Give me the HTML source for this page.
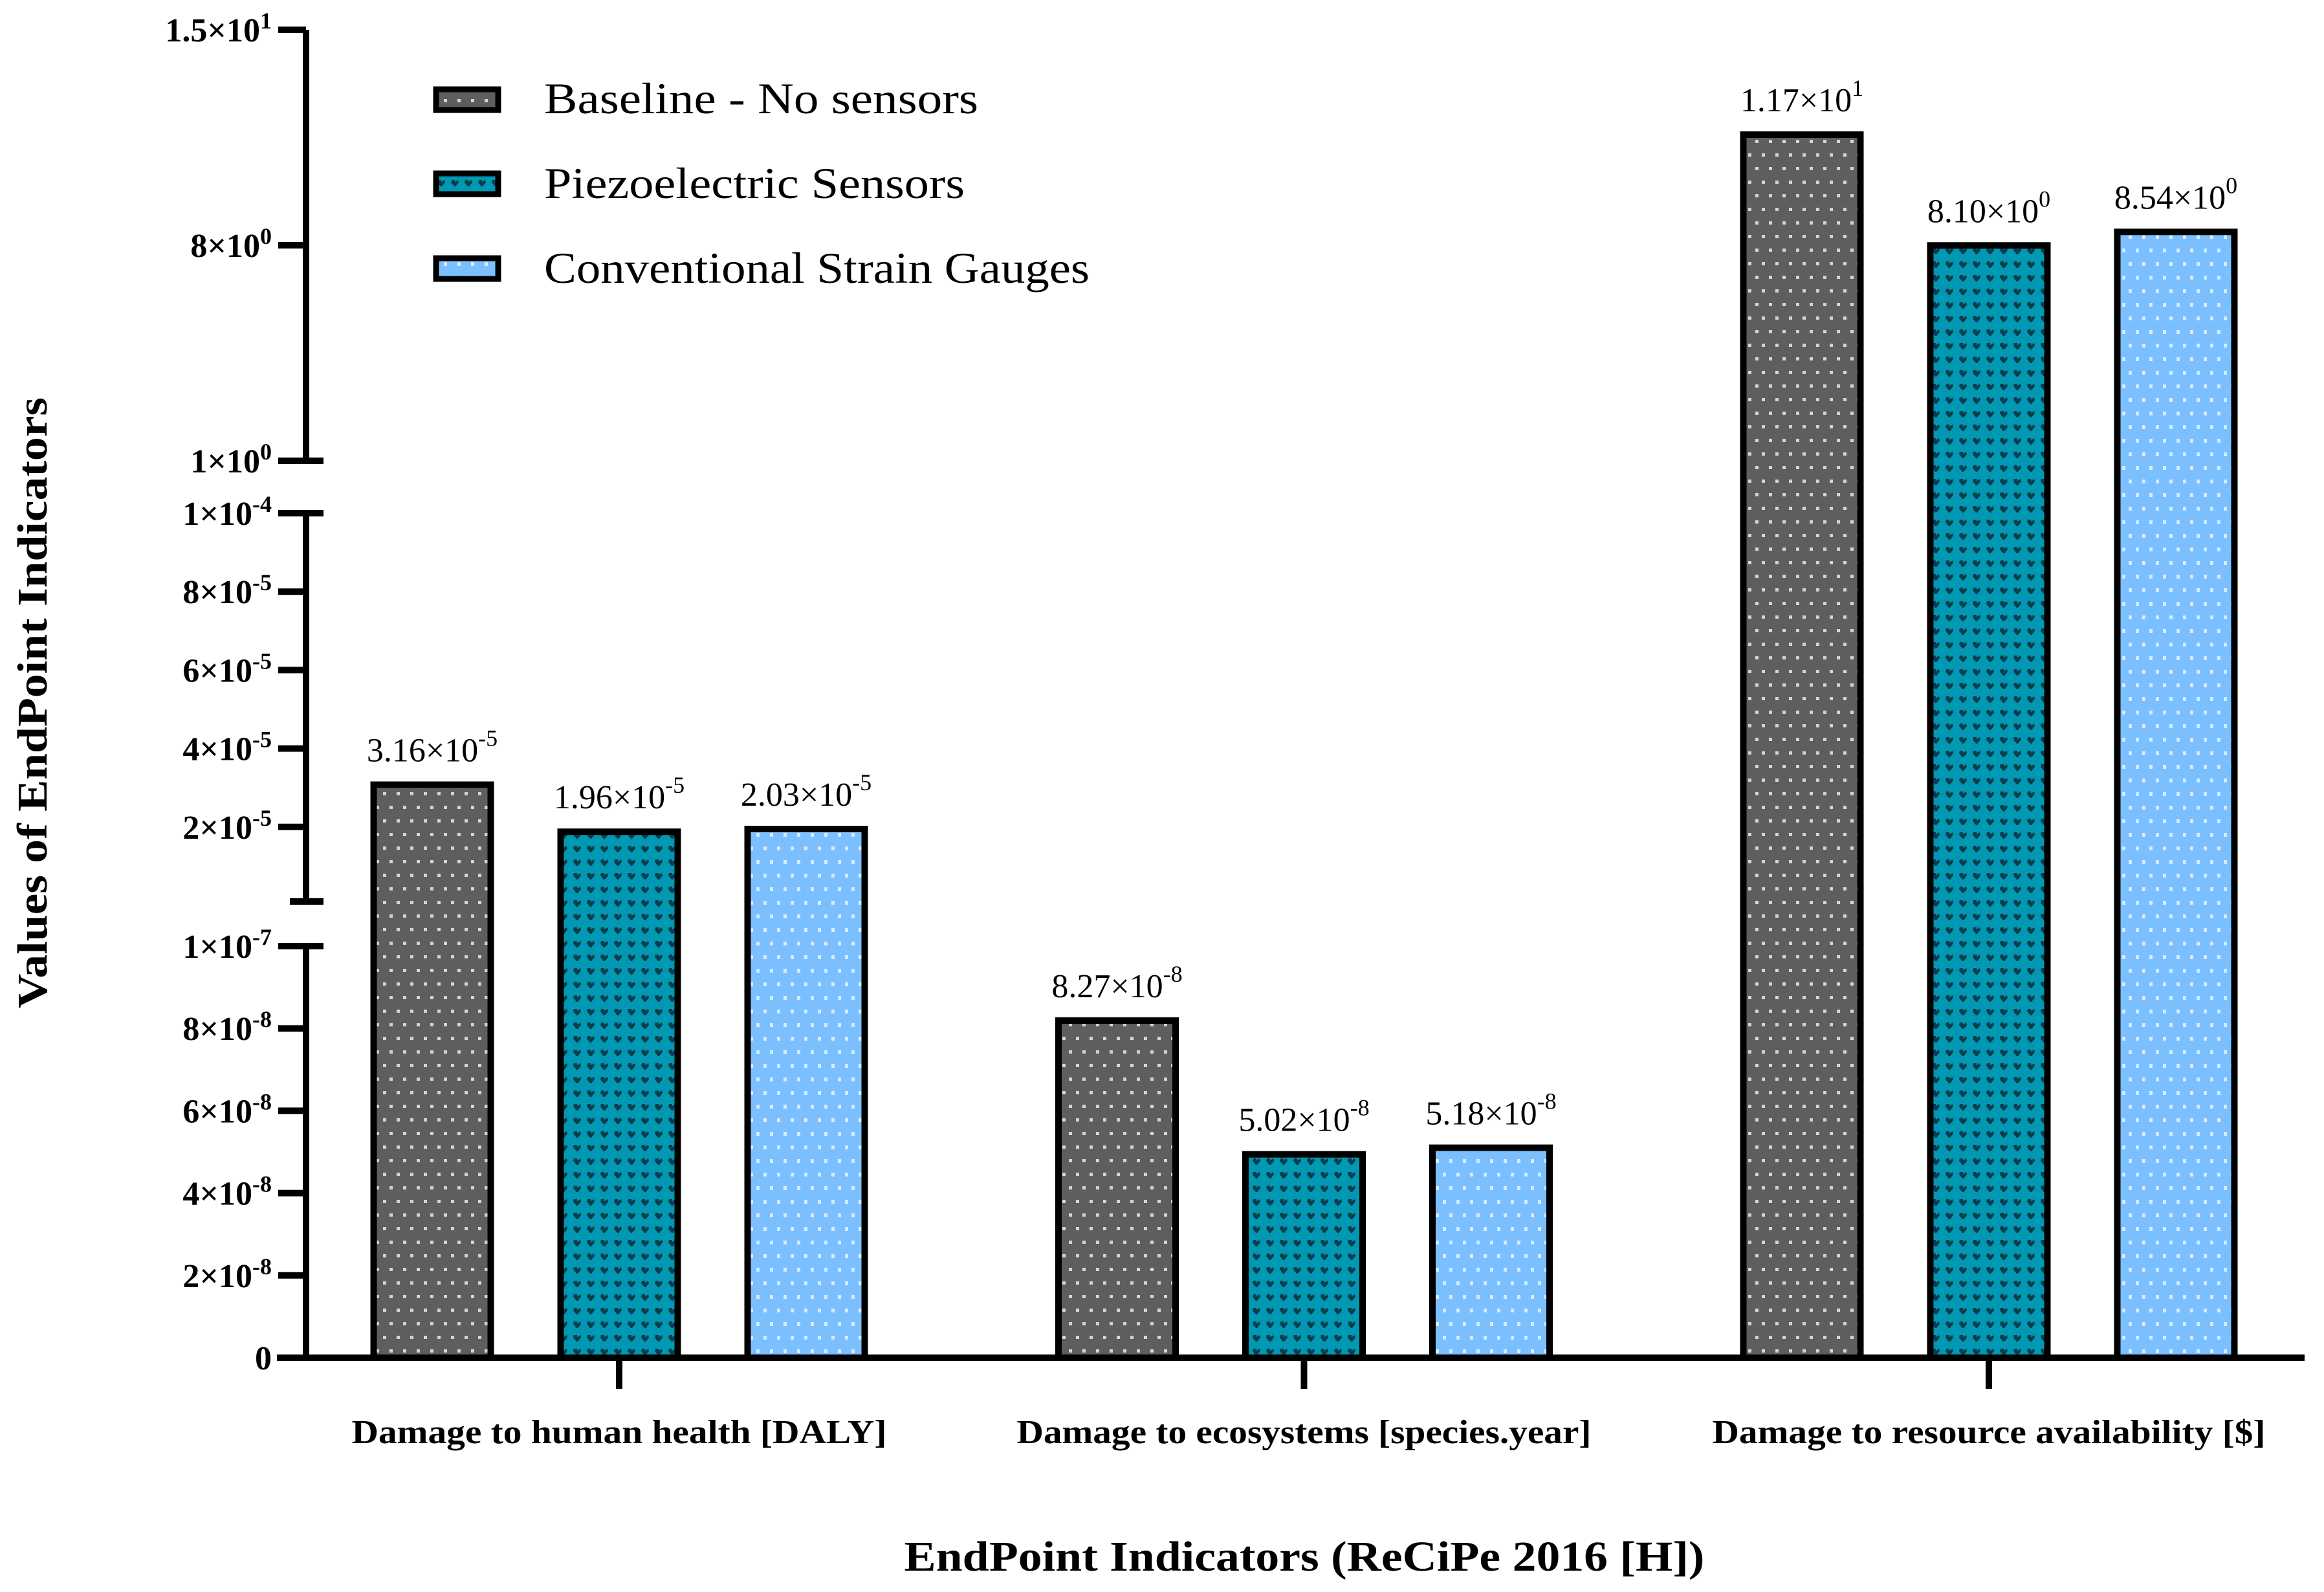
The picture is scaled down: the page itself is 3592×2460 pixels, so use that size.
<!DOCTYPE html>
<html><head><meta charset="utf-8">
<style>
html,body{margin:0;padding:0;background:#fff;}
svg{display:block;font-family:"Liberation Serif",serif;}
</style></head>
<body>
<svg id="chart" width="3592" height="2460" viewBox="0 0 3592 2460" xmlns="http://www.w3.org/2000/svg">
<defs>
<pattern id="pGray" patternUnits="userSpaceOnUse" width="21" height="42" x="0" y="0">
<rect width="21" height="42" fill="#5e5e5e"/>
<rect x="4" y="6" width="5" height="5" fill="#d4d4d4"/>
<rect x="14" y="27" width="5" height="5" fill="#d4d4d4"/>
</pattern>
<pattern id="pTeal" patternUnits="userSpaceOnUse" width="21" height="21">
<rect width="21" height="21" fill="#0098b2"/>
<path d="M5 5 L10 5 L10 8 L15 5 L16 9 L11 15 L9 15 L4 9 Z" fill="#0d3d4c"/>
</pattern>
<pattern id="pBlue" patternUnits="userSpaceOnUse" width="21" height="42">
<rect width="21" height="42" fill="#7cbfff"/>
<rect x="4" y="6" width="5" height="6" fill="#d6ebff"/>
<rect x="14" y="27" width="5" height="6" fill="#d6ebff"/>
</pattern>
</defs>
<g id="bars"></g>
<g id="axes"></g>
<g id="labels"></g>
<g id="legend">
<rect x="674" y="138" width="96" height="32" fill="url(#pGray)" stroke="#000" stroke-width="9"/>
<text x="841" y="175" font-size="68" textLength="671" lengthAdjust="spacingAndGlyphs">Baseline - No sensors</text>
<rect x="674" y="268" width="96" height="32" fill="url(#pTeal)" stroke="#000" stroke-width="9"/>
<text x="841" y="306" font-size="68" textLength="650" lengthAdjust="spacingAndGlyphs">Piezoelectric Sensors</text>
<rect x="674" y="399" width="96" height="32" fill="url(#pBlue)" stroke="#000" stroke-width="9"/>
<text x="841" y="437" font-size="68" textLength="843" lengthAdjust="spacingAndGlyphs">Conventional Strain Gauges</text>
</g>
<text transform="translate(72,1086) rotate(-90)" text-anchor="middle" font-size="66" font-weight="bold" textLength="944" lengthAdjust="spacingAndGlyphs">Values of EndPoint Indicators</text>
<text x="2016" y="2427" text-anchor="middle" font-size="66" font-weight="bold" textLength="1237" lengthAdjust="spacingAndGlyphs">EndPoint Indicators (ReCiPe 2016 [H])</text>
</svg>
<script>
const categories = ["Damage to human health [DALY]", "Damage to ecosystems [species.year]", "Damage to resource availability [$]"];
const catWidths = [827, 888, 855];
const seriesNames = ["Baseline - No sensors", "Piezoelectric Sensors", "Conventional Strain Gauges"];
const baselineValues = [3.16e-5, 8.27e-8, 11.7];
const piezoValues = [1.96e-5, 5.02e-8, 8.10];
const strainValues = [2.03e-5, 5.18e-8, 8.54];
const topTicks = [15, 8, 1];
const topTickLabels = [["1.5×10","1"],["8×10","0"],["1×10","0"]];
const midTicks = [1e-4, 8e-5, 6e-5, 4e-5, 2e-5];
const midTickLabels = [["1×10","-4"],["8×10","-5"],["6×10","-5"],["4×10","-5"],["2×10","-5"]];
const lowTicks = [1e-7, 8e-8, 6e-8, 4e-8, 2e-8, 0];
const lowTickLabels = [["1×10","-7"],["8×10","-8"],["6×10","-8"],["4×10","-8"],["2×10","-8"],["0",""]];

const NS = "http://www.w3.org/2000/svg";
function yScale(v){
  if (v >= 0.5) return 712 - (v - 1) * 47.57;
  if (v > 1.2e-7) return 793 + (1e-4 - v) / 1e-5 * 60.6;
  return 2098 - v * 6.36e9;
}
function xGroup(i){ return 957 + i * 1058.5; }
function mk(tag, attrs, parent){
  const e = document.createElementNS(NS, tag);
  for (const k in attrs) e.setAttribute(k, attrs[k]);
  parent.appendChild(e); return e;
}
const barsG = document.getElementById("bars");
const axesG = document.getElementById("axes");
const labG = document.getElementById("labels");
const series = [baselineValues, piezoValues, strainValues];
const fills = ["url(#pGray)", "url(#pTeal)", "url(#pBlue)"];
const keys = ["baseline", "piezo", "strain"];
const BW = 191, BS = 289, BORDER = 10;
function fmt(v){
  const e = Math.floor(Math.log10(v) + 1e-9);
  return [(v / Math.pow(10, e)).toFixed(2) + "×10", String(e)];
}
series.forEach((vals, s) => {
  vals.forEach((v, i) => {
    const cx = xGroup(i) + (s - 1) * BS;
    const yt = yScale(v);
    const r = mk("rect", {x: cx - BW/2 + BORDER/2, y: yt + BORDER/2, width: BW - BORDER, height: 2098 - yt - BORDER/2, fill: fills[s], stroke: "#000", "stroke-width": BORDER}, barsG);
    
    
    const f = fmt(v);
    const t = mk("text", {x: cx, y: yt - 31, "text-anchor": "middle", "font-size": 52}, labG);
    
    
    const a = mk("tspan", {}, t); a.textContent = f[0];
    const b = mk("tspan", {dy: -24, "font-size": 36}, t); b.textContent = f[1];
  });
});
[[46, 712], [793, 1393], [1462, 2098]].forEach((seg, k) => {
  const l = mk("line", {x1: 473, x2: 473, y1: seg[0], y2: seg[1] + 5, stroke: "#000", "stroke-width": 10}, axesG);
  
  
});
[712, 793, 1393, 1462].forEach((y, k) => {
  const l = mk("line", {x1: 448, x2: 500, y1: y, y2: y, stroke: "#000", "stroke-width": 10}, axesG);
  
  
});
const xa = mk("line", {x1: 428, x2: 3562, y1: 2098, y2: 2098, stroke: "#000", "stroke-width": 10}, axesG);


function ticks(vals, labs, name){
  vals.forEach((v, i) => {
    const y = yScale(v);
    const l = mk("line", {x1: 430, x2: 473, y1: y, y2: y, stroke: "#000", "stroke-width": 10}, axesG);
    
    
    const t = mk("text", {x: 420, y: y + 18, "text-anchor": "end", "font-size": 52, "font-weight": "bold"}, axesG);
    
    
    const a = mk("tspan", {}, t); a.textContent = labs[i][0];
    if (labs[i][1]) { const b = mk("tspan", {dy: -20, "font-size": 36}, t); b.textContent = labs[i][1]; }
  });
}
ticks(topTicks, topTickLabels, "y-top");
ticks(midTicks, midTickLabels, "y-mid");
ticks(lowTicks, lowTickLabels, "y-low");
categories.forEach((c, i) => {
  const x = xGroup(i);
  const l = mk("line", {x1: x, x2: x, y1: 2098, y2: 2146, stroke: "#000", "stroke-width": 10}, axesG);
  
  
  const t = mk("text", {x: x, y: 2230, "text-anchor": "middle", "font-size": 52, "font-weight": "bold", textLength: catWidths[i], lengthAdjust: "spacingAndGlyphs"}, axesG);
  
  
  t.textContent = c;
});
</script>
</body></html>
